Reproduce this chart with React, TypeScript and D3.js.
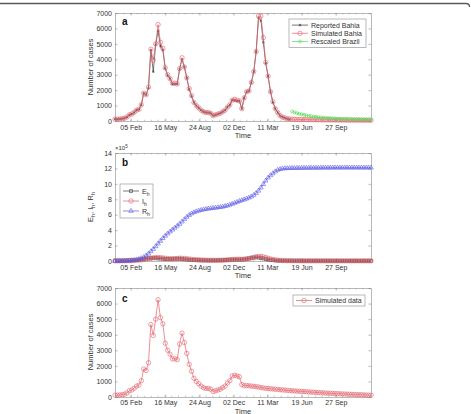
import { useEffect, useRef } from "react";
import * as d3 from "d3";

// weekly series, week 0 = 21 Dec 2019
const startDate = new Date(2019, 11, 21);
const nWeeks = 108;
const tickDates = ["2020-02-05", "2020-05-16", "2020-08-24", "2020-12-02", "2021-03-11", "2021-06-19", "2021-09-27"];

const reportedBahia = [
  120, 120, 130, 150, 180, 250, 400, 450, 550, 700,
  750, 1050, 1800, 1700, 2150, 4600, 3200, 4950, 5850, 4850,
  4600, 3400, 2950, 2750, 2400, 2400, 2400, 3350, 4000, 3500,
  2800, 2050, 1600, 1200, 1000, 850, 700, 600, 550, 550,
  500, 350, 400, 450, 500, 600, 700, 900, 1050, 1350,
  1350, 1300, 1300, 800, 1500, 1900, 1950, 2500, 3200, 4500,
  6700, 6500, 5100, 3750, 2900, 1900, 1200, 800, 550, 350,
  250, 200, 150, 100,
];

const simulatedBahia = [
  120, 120, 130, 150, 180, 260, 400, 450, 560, 700,
  760, 1050, 1800, 1700, 2200, 4650, 3950, 5000, 6250, 5100,
  4700, 3450, 3000, 2750, 2450, 2450, 2400, 3400, 4100, 3500,
  2800, 2100, 1650, 1200, 1000, 850, 700, 600, 550, 550,
  500, 350, 400, 450, 500, 600, 700, 900, 1050, 1350,
  1400, 1350, 1300, 800, 1500, 1900, 1950, 2500, 3200, 4500,
  6800, 6800, 5400, 3800, 2900, 1900, 1250, 800, 550, 350,
  250, 200, 150, 130, 115, 110, 105, 100, 98, 95,
  92, 90, 88, 85, 82, 80, 78, 76, 74, 72,
  70, 68, 66, 64, 62, 60, 58, 57, 56, 55,
  54, 53, 52, 51, 50, 49, 48, 47,
];

// starts at week 74
const brazilStart = 74;
const rescaledBrazil = [
  620, 560, 510, 470, 430, 400, 370, 340, 310, 290,
  270, 250, 235, 220, 205, 195, 185, 175, 165, 158,
  150, 145, 140, 135, 130, 125, 120, 117, 114, 111,
  108, 105, 102, 100,
];

// panel b, units of 1e5
const eH = [
  0.02, 0.02, 0.03, 0.03, 0.04, 0.05, 0.06, 0.07, 0.09, 0.12,
  0.15, 0.2, 0.25, 0.3, 0.34, 0.37, 0.38, 0.37, 0.35, 0.32,
  0.29, 0.26, 0.25, 0.25, 0.27, 0.29, 0.3, 0.29, 0.26, 0.23,
  0.2, 0.17, 0.15, 0.13, 0.12, 0.11, 0.1, 0.09, 0.09, 0.08,
  0.08, 0.08, 0.09, 0.09, 0.1, 0.11, 0.13, 0.15, 0.17, 0.18,
  0.19, 0.19, 0.19, 0.2, 0.23, 0.28, 0.34, 0.4, 0.45, 0.47,
  0.45, 0.4, 0.33, 0.26, 0.2, 0.15, 0.11, 0.08, 0.06, 0.05,
  0.04, 0.04, 0.03, 0.03, 0.03, 0.02, 0.02, 0.02, 0.02, 0.02,
  0.02, 0.02, 0.02, 0.02, 0.02, 0.02, 0.02, 0.02, 0.02, 0.02,
  0.01, 0.01, 0.01, 0.01, 0.01, 0.01, 0.01, 0.01, 0.01, 0.01,
  0.01, 0.01, 0.01, 0.01, 0.01, 0.01, 0.01, 0.01,
];

const iH = [
  0.02, 0.02, 0.02, 0.03, 0.03, 0.04, 0.05, 0.06, 0.08, 0.1,
  0.12, 0.15, 0.2, 0.25, 0.32, 0.38, 0.42, 0.45, 0.46, 0.44,
  0.4, 0.36, 0.32, 0.3, 0.29, 0.3, 0.33, 0.36, 0.36, 0.33,
  0.3, 0.26, 0.22, 0.19, 0.17, 0.15, 0.13, 0.12, 0.11, 0.1,
  0.1, 0.09, 0.09, 0.1, 0.1, 0.11, 0.12, 0.14, 0.16, 0.2,
  0.22, 0.23, 0.23, 0.22, 0.24, 0.28, 0.33, 0.4, 0.48, 0.56,
  0.6, 0.6, 0.54, 0.45, 0.36, 0.27, 0.2, 0.14, 0.1, 0.08,
  0.06, 0.05, 0.04, 0.04, 0.03, 0.03, 0.03, 0.03, 0.02, 0.02,
  0.02, 0.02, 0.02, 0.02, 0.02, 0.02, 0.02, 0.02, 0.02, 0.02,
  0.02, 0.02, 0.02, 0.02, 0.02, 0.02, 0.02, 0.02, 0.02, 0.02,
  0.02, 0.02, 0.02, 0.02, 0.02, 0.02, 0.02, 0.02,
];

const rH = [
  0, 0, 0, 0.01, 0.02, 0.03, 0.05, 0.08, 0.12, 0.17,
  0.25, 0.35, 0.5, 0.7, 0.95, 1.25, 1.55, 1.9, 2.25, 2.6,
  2.95, 3.25, 3.55, 3.8, 4.05, 4.3, 4.55, 4.8, 5.1, 5.4,
  5.7, 5.95, 6.15, 6.3, 6.42, 6.52, 6.6, 6.67, 6.73, 6.78,
  6.82, 6.86, 6.9, 6.94, 6.98, 7.03, 7.1, 7.18, 7.28, 7.4,
  7.52, 7.64, 7.76, 7.87, 7.97, 8.08, 8.2, 8.35, 8.55, 8.8,
  9.1, 9.5, 9.95, 10.4, 10.8, 11.1, 11.35, 11.6, 11.8, 11.9,
  11.97, 12.0, 12.02, 12.03, 12.04, 12.05, 12.05, 12.06, 12.06, 12.07,
  12.07, 12.07, 12.08, 12.08, 12.08, 12.08, 12.09, 12.09, 12.09, 12.09,
  12.09, 12.1, 12.1, 12.1, 12.1, 12.1, 12.1, 12.1, 12.1, 12.1,
  12.1, 12.1, 12.1, 12.1, 12.1, 12.1, 12.1, 12.1,
];

const simulatedData = [
  120, 120, 130, 150, 180, 260, 400, 450, 560, 700,
  760, 1050, 1800, 1700, 2200, 4650, 3950, 5000, 6250, 5100,
  4700, 3450, 3000, 2750, 2450, 2450, 2400, 3400, 4100, 3500,
  2800, 2100, 1650, 1200, 1000, 850, 700, 600, 550, 550,
  500, 350, 400, 450, 500, 600, 700, 900, 1050, 1350,
  1400, 1350, 1300, 800, 720, 740, 720, 700, 680, 660,
  640, 610, 580, 560, 545, 530, 515, 500, 485, 470,
  455, 440, 425, 412, 400, 388, 376, 365, 355, 345,
  335, 325, 315, 305, 295, 285, 275, 265, 255, 245,
  237, 229, 221, 213, 205, 197, 190, 183, 176, 169,
  162, 155, 148, 141, 134, 127, 120, 113,
];

const casesTicks = d3.range(0, 7001, 1000);
const bTicks = d3.range(0, 15, 2);

const FONT = "'Liberation Sans', Arial, Helvetica, sans-serif";
const RED = "#e2606a";
const DARK = "#3c3c3c";
const GREEN = "#55dd55";
const BLUE = "#5a5ae8";
const AXIS = "#8a8a8a";

export default function App() {
  const ref = useRef<SVGSVGElement>(null);

  useEffect(() => {
    const svg = d3.select(ref.current);
    svg.selectAll("*").remove();

    const left = 115;
    const right = 371;
    const parse = d3.timeParse("%Y-%m-%d");
    const majors = tickDates.map((d) => parse(d) as Date);
    const endDate = d3.timeDay.offset(startDate, 7 * (nWeeks - 1));
    const x = d3.scaleTime().domain([startDate, endDate]).range([left, right]);
    const dateOf = (i: number) => d3.timeDay.offset(startDate, 7 * i);
    const minors = d3
      .range(-3, 40)
      .map((k) => d3.timeDay.offset(majors[0], 20 * k))
      .filter((d) => d >= startDate && d <= endDate);

    // figure border line at the very top
    svg
      .append("path")
      .attr("d", "M0,3.5 H466 Q469.5,3.5 469.5,7")
      .attr("fill", "none")
      .attr("stroke", "#5a5a5a")
      .attr("stroke-width", 1.3);

    const styleAxis = (g: any) => {
      g.select(".domain").attr("stroke", AXIS).attr("stroke-width", 0.6);
      g.selectAll("line").attr("stroke", AXIS).attr("stroke-width", 0.6);
      g.selectAll("text").attr("fill", "#333").style("font-size", "7px").style("font-family", FONT);
    };

    function frame(top: number, bottom: number, y: any, yTicks: number[], timeDy: number, pad = 4) {
      const g = svg.append("g");
      g.append("g")
        .attr("transform", `translate(0,${bottom})`)
        .call(d3.axisBottom(x).tickValues(majors).tickFormat((d: any) => d3.timeFormat("%d %b")(d)).tickSize(-2.5).tickSizeOuter(0).tickPadding(pad))
        .call(styleAxis);
      g.append("g")
        .attr("transform", `translate(0,${top})`)
        .call(d3.axisTop(x).tickValues(majors).tickFormat(() => "").tickSize(-2.5).tickSizeOuter(0))
        .call(styleAxis);
      // minor ticks
      g.append("g")
        .selectAll("line")
        .data(minors)
        .join("line")
        .attr("x1", (d) => x(d))
        .attr("x2", (d) => x(d))
        .attr("y1", bottom)
        .attr("y2", bottom - 1.3)
        .attr("stroke", AXIS)
        .attr("stroke-width", 0.5);
      g.append("g")
        .selectAll("line")
        .data(minors)
        .join("line")
        .attr("x1", (d) => x(d))
        .attr("x2", (d) => x(d))
        .attr("y1", top)
        .attr("y2", top + 1.3)
        .attr("stroke", AXIS)
        .attr("stroke-width", 0.5);
      g.append("g")
        .attr("transform", `translate(${left},0)`)
        .call(d3.axisLeft(y).tickValues(yTicks).tickFormat(d3.format("d")).tickSize(-2.5).tickSizeOuter(0).tickPadding(3))
        .call(styleAxis);
      g.append("g")
        .attr("transform", `translate(${right},0)`)
        .call(d3.axisRight(y).tickValues(yTicks).tickFormat(() => "").tickSize(-2.5).tickSizeOuter(0))
        .call(styleAxis);
      g.append("text")
        .attr("x", (left + right) / 2)
        .attr("y", bottom + timeDy)
        .attr("text-anchor", "middle")
        .attr("fill", "#333")
        .style("font-size", "7.5px")
        .style("font-family", FONT)
        .text("Time");
    }

    function yLabel(cy: number, label: string) {
      svg
        .append("text")
        .attr("transform", `translate(93,${cy}) rotate(-90)`)
        .attr("text-anchor", "middle")
        .attr("fill", "#333")
        .style("font-size", "7.5px")
        .style("font-family", FONT)
        .text(label);
    }

    function panelLetter(px: number, py: number, t: string) {
      svg
        .append("text")
        .attr("x", px)
        .attr("y", py)
        .attr("fill", "#111")
        .style("font-size", "10px")
        .style("font-weight", "bold")
        .style("font-family", FONT)
        .text(t);
    }

    function series(values: number[], offset: number, y: any, color: string, marker: string, width = 0.7) {
      const g = svg.append("g");
      const line = d3
        .line<number>()
        .x((d, i) => x(dateOf(i + offset)))
        .y((d) => y(d));
      g.append("path").datum(values).attr("d", line).attr("fill", "none").attr("stroke", color).attr("stroke-width", width);
      const pts = values.map((v, i) => [x(dateOf(i + offset)), y(v)]);
      drawMarkers(g, pts, color, marker);
    }

    function drawMarkers(g: any, pts: number[][], color: string, marker: string) {
      if (marker === "circle" || marker === "small") {
        g.append("g")
          .selectAll("circle")
          .data(pts)
          .join("circle")
          .attr("cx", (d: number[]) => d[0])
          .attr("cy", (d: number[]) => d[1])
          .attr("r", marker === "circle" ? 2.2 : 1.5)
          .attr("fill", "none")
          .attr("stroke", color)
          .attr("stroke-width", 0.6);
      } else {
        const sym =
          marker === "square" ? d3.symbolSquare : marker === "triangle" ? d3.symbolTriangle : d3.symbolAsterisk;
        const size = marker === "square" ? 9 : marker === "triangle" ? 9 : 5;
        g.append("g")
          .selectAll("path")
          .data(pts)
          .join("path")
          .attr("transform", (d: number[]) => `translate(${d[0]},${d[1]})`)
          .attr("d", d3.symbol(sym, size)())
          .attr("fill", "none")
          .attr("stroke", color)
          .attr("stroke-width", 0.6);
      }
    }

    function legend(x0: number, y0: number, w: number, entries: { label: string; sub?: string; color: string; marker: string }[], rowH: number) {
      const g = svg.append("g");
      const h = entries.length * rowH + 4;
      g.append("rect")
        .attr("x", x0)
        .attr("y", y0)
        .attr("width", w)
        .attr("height", h)
        .attr("fill", "#fff")
        .attr("stroke", AXIS)
        .attr("stroke-width", 0.6);
      entries.forEach((e, k) => {
        const cy = y0 + 2 + rowH * (k + 0.5);
        g.append("line")
          .attr("x1", x0 + 3)
          .attr("x2", x0 + 19)
          .attr("y1", cy)
          .attr("y2", cy)
          .attr("stroke", e.color)
          .attr("stroke-width", 0.7);
        drawMarkers(g, [[x0 + 11, cy]], e.color, e.marker);
        const t = g
          .append("text")
          .attr("x", x0 + 22)
          .attr("y", cy + 2.5)
          .attr("fill", "#333")
          .style("font-size", "7px")
          .style("font-family", FONT)
          .text(e.label);
        if (e.sub) t.append("tspan").attr("dy", 2).style("font-size", "5px").text(e.sub);
      });
    }

    // panel a
    const yA = d3.scaleLinear().domain([0, 7000]).range([121, 13]);
    frame(13, 121, yA, casesTicks, 17);
    series(reportedBahia, 0, yA, DARK, "asterisk");
    series(simulatedBahia, 0, yA, RED, "circle");
    series(rescaledBrazil, brazilStart, yA, GREEN, "small");
    yLabel(67, "Number of cases");
    panelLetter(122, 25, "a");
    legend(289, 19, 77, [
      { label: "Reported Bahia", color: DARK, marker: "asterisk" },
      { label: "Simulated Bahia", color: RED, marker: "circle" },
      { label: "Rescaled Brazil", color: GREEN, marker: "small" },
    ], 8.2);

    // panel b
    const yB = d3.scaleLinear().domain([0, 14]).range([261, 153]);
    frame(153, 261, yB, bTicks, 17);
    series(eH, 0, yB, DARK, "square");
    series(iH, 0, yB, RED, "circle");
    series(rH, 0, yB, BLUE, "triangle");
    panelLetter(122, 166, "b");
    const yl = svg
      .append("text")
      .attr("transform", `translate(93,207) rotate(-90)`)
      .attr("text-anchor", "middle")
      .attr("fill", "#333")
      .style("font-size", "7.5px")
      .style("font-family", FONT);
    yl.append("tspan").text("E");
    yl.append("tspan").attr("dy", 2).style("font-size", "5.5px").text("h");
    yl.append("tspan").attr("dy", -2).text(", I");
    yl.append("tspan").attr("dy", 2).style("font-size", "5.5px").text("h");
    yl.append("tspan").attr("dy", -2).text(", R");
    yl.append("tspan").attr("dy", 2).style("font-size", "5.5px").text("h");
    const ex = svg
      .append("text")
      .attr("x", 115)
      .attr("y", 150)
      .attr("fill", "#333")
      .style("font-size", "6px")
      .style("font-family", FONT);
    ex.append("tspan").text("×10");
    ex.append("tspan").attr("dy", -2.5).style("font-size", "4.5px").text("5");
    legend(120, 184, 33, [
      { label: "E", sub: "h", color: DARK, marker: "square" },
      { label: "I", sub: "h", color: RED, marker: "circle" },
      { label: "R", sub: "h", color: BLUE, marker: "triangle" },
    ], 10);

    // panel c
    const yC = d3.scaleLinear().domain([0, 7000]).range([397, 288]);
    frame(288, 397, yC, casesTicks, 16.5, 3);
    series(simulatedData, 0, yC, RED, "circle");
    yLabel(342, "Number of cases");
    panelLetter(122, 302, "c");
    legend(293, 295, 72, [{ label: "Simulated data", color: RED, marker: "circle" }], 7);
  }, []);

  return (
    <svg
      ref={ref}
      width={471}
      height={414}
      style={{ position: "absolute", left: 0, top: 0, background: "#fff" }}
      role="img"
      aria-label="Reported and simulated cases in Bahia"
    />
  );
}
